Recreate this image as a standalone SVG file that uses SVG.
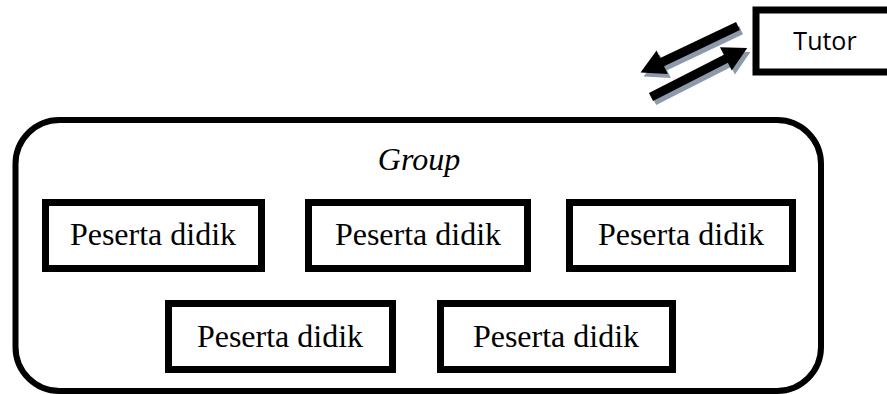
<svg xmlns="http://www.w3.org/2000/svg" width="887" height="394" viewBox="0 0 887 394">
<style>
.box{fill:#fff;stroke:#000;stroke-width:7}
.t{font-family:"Liberation Serif","Times New Roman",serif;font-size:32px;fill:#000;text-anchor:middle}
.tutor{font-family:"Open Sans","Liberation Sans",sans-serif;font-size:25px;fill:#000;text-anchor:middle}
.arr{fill:#000}
.sh{fill:#8e99ab}
</style>
<defs>
<polygon id="arrow" points="0,-4.5 84,-4.5 84,-13 108,0 84,13 84,4.5 0,4.5"/>
</defs>
<rect width="887" height="394" fill="#fff"/>
<g id="tutor">
<rect class="box" x="756" y="10" width="140" height="62" stroke-width="6.5"/>
<text class="tutor" x="825" y="50">Tutor</text>
</g>
<g id="connectors">
<g transform="translate(738,26) rotate(154.5)">
<use href="#arrow" class="sh" transform="translate(-1,-5)"/>
<use href="#arrow" class="arr"/>
</g>
<g transform="translate(651,97) rotate(-27)">
<use href="#arrow" class="sh" transform="translate(1,5)"/>
<use href="#arrow" class="arr"/>
</g>
</g>
<g id="group">
<rect x="15.5" y="120" width="805.5" height="271" rx="44" ry="44" fill="none" stroke="#000" stroke-width="6"/>
<text class="t" x="419" y="170" font-style="italic" font-size="30">Group</text>
</g>
<g id="p1"><rect class="box" x="45.5" y="202.5" width="216" height="66"/><text class="t" x="153" y="245">Peserta didik</text></g>
<g id="p2"><rect class="box" x="308.5" y="202.5" width="219" height="66"/><text class="t" x="418" y="245">Peserta didik</text></g>
<g id="p3"><rect class="box" x="569.5" y="202.5" width="223" height="66"/><text class="t" x="681" y="245">Peserta didik</text></g>
<g id="p4"><rect class="box" x="168.5" y="303.5" width="224" height="66"/><text class="t" x="280" y="347">Peserta didik</text></g>
<g id="p5"><rect class="box" x="440.5" y="303.5" width="232" height="66"/><text class="t" x="556" y="347">Peserta didik</text></g>
</svg>
